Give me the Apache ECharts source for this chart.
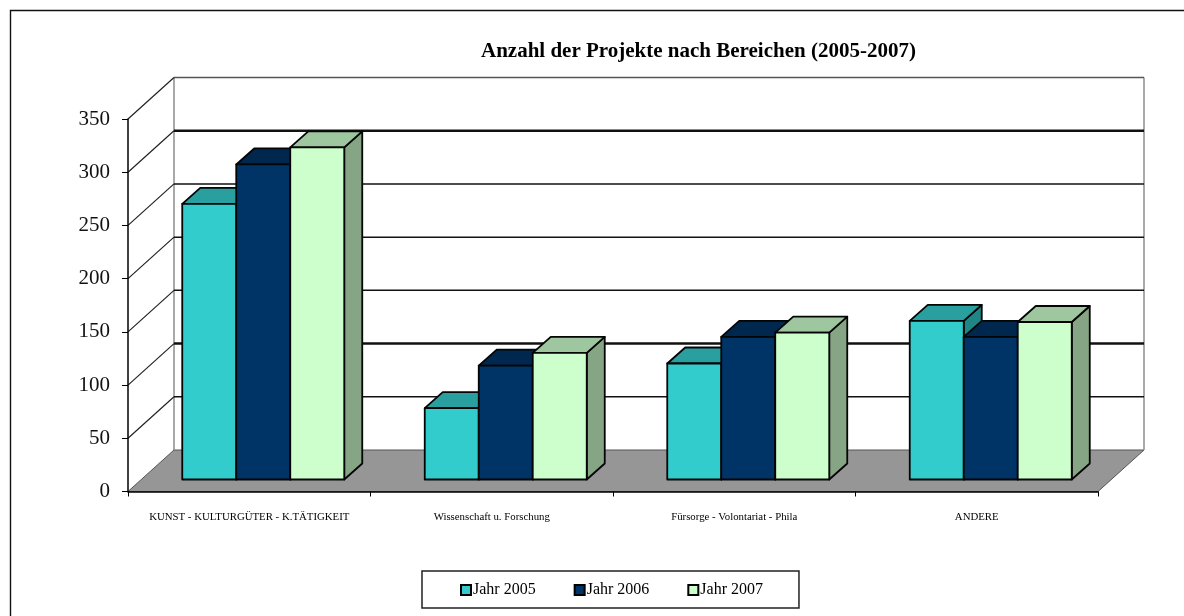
<!DOCTYPE html>
<html>
<head>
<meta charset="utf-8">
<script src="https://cdn.jsdelivr.net/npm/echarts@6/dist/echarts.min.js"></script>
<style>
  html, body { margin: 0; padding: 0; background: #fff; }
  #chart { width: 1184px; height: 616px; }
</style>
</head>
<body>
<div id="chart"></div>
<script>
const categories = ['KUNST - KULTURGÜTER - K.TÄTIGKEIT', 'Wissenschaft u. Forschung', 'Fürsorge - Volontariat - Phila', 'ANDERE']
const yTicks = [0, 50, 100, 150, 200, 250, 300, 350]
const jahr2005 = [259, 67, 109, 149]
const jahr2006 = [296, 107, 134, 134]
const jahr2007 = [312, 119, 138, 148]

const SERIF = '"Liberation Serif", serif'
// fake 3d offsets, px
const wallDepth = [46, -41.5]
const barShift = [14, -12]
const barDepth = [18, -16]
const barShare = 54 / 242.5

const chart = echarts.init(document.getElementById('chart'))

const move = (p, d) => [p[0] + d[0], p[1] + d[1]]

const renderWall = (params, api) => {
  const v = api.value(0)
  const band = api.size([1, 0])[0]
  const front = api.coord([0, v])
  front[0] -= band / 2
  const back = move(front, wallDepth)
  const plotW = band * categories.length
  const children = []
  if (v === 0) {
    const frontEnd = [front[0] + plotW, front[1]]
    const backEnd = move(frontEnd, wallDepth)
    const wallH = api.size([0, 350])[1]
    children.push({
      type: 'polygon',
      shape: { points: [front, back, backEnd, frontEnd] },
      style: { fill: '#969696', stroke: '#555', lineWidth: 1 }
    })
    children.push({
      type: 'line',
      shape: { x1: back[0], y1: back[1], x2: back[0], y2: back[1] - wallH },
      style: { stroke: '#8c8c8c', lineWidth: 1.5 }
    })
    children.push({
      type: 'line',
      shape: { x1: backEnd[0], y1: backEnd[1], x2: backEnd[0], y2: backEnd[1] - wallH },
      style: { stroke: '#8c8c8c', lineWidth: 1.5 }
    })
    return { type: 'group', children }
  }
  children.push({
    type: 'line',
    shape: { x1: front[0], y1: front[1], x2: back[0], y2: back[1] },
    style: { stroke: '#222', lineWidth: 1.2 }
  })
  children.push({
    type: 'line',
    shape: { x1: back[0], y1: back[1], x2: back[0] + plotW, y2: back[1] },
    style: { stroke: v === 350 ? '#555' : '#111', lineWidth: v === 300 || v === 100 ? 2.4 : 1.5 }
  })
  return { type: 'group', children }
}

const makeBarRenderer = (slot, faces) => (params, api) => {
  const cat = api.value(0)
  const val = api.value(1)
  const band = api.size([1, 0])[0]
  const w = band * barShare
  const center = api.coord([cat, 0])[0] + barShift[0]
  const x0 = center - 1.5 * w + slot * w
  const x1 = x0 + w
  const yBase = api.coord([cat, 0])[1] + barShift[1]
  const yTop = api.coord([cat, val])[1] + barShift[1]
  const edge = { stroke: '#050505', lineWidth: 1.8, lineJoin: 'round' }
  return {
    type: 'group',
    children: [
      {
        type: 'polygon',
        shape: { points: [[x1, yTop], move([x1, yTop], barDepth), move([x1, yBase], barDepth), [x1, yBase]] },
        style: { fill: faces.side, ...edge }
      },
      {
        type: 'polygon',
        shape: { points: [[x0, yTop], move([x0, yTop], barDepth), move([x1, yTop], barDepth), [x1, yTop]] },
        style: { fill: faces.top, ...edge }
      },
      {
        type: 'rect',
        shape: { x: x0, y: yTop, width: w, height: yBase - yTop },
        style: { fill: faces.front, ...edge }
      }
    ]
  }
}

const barSeries = (name, values, slot, faces) => ({
  name,
  type: 'custom',
  z: 3,
  renderItem: makeBarRenderer(slot, faces),
  itemStyle: { color: faces.front, borderColor: '#000', borderWidth: 1.5 },
  encode: { x: 0, y: 1 },
  data: values.map((v, i) => [i, v])
})

const option = {
  animation: false,
  backgroundColor: '#fff',
  title: {
    text: 'Anzahl der Projekte nach Bereichen (2005-2007)',
    left: 481,
    top: 41,
    padding: 0,
    textStyle: { fontFamily: SERIF, fontSize: 21, fontWeight: 'bold', color: '#000' }
  },
  legend: {
    left: 422,
    top: 571,
    data: ['Jahr 2005', 'Jahr 2006', 'Jahr 2007'],
    icon: 'rect',
    itemWidth: 10,
    itemHeight: 10,
    itemGap: 38,
    padding: [11, 36, 10, 38],
    borderColor: '#222',
    borderWidth: 1.5,
    textStyle: { fontFamily: SERIF, fontSize: 16, color: '#000', padding: [0, 0, 0, -3] }
  },
  grid: { left: 128, top: 119, width: 970, height: 372.5 },
  xAxis: {
    type: 'category',
    data: categories,
    z: 5,
    axisLine: { lineStyle: { color: '#000', width: 1.5 } },
    axisTick: { show: true, length: 5, lineStyle: { color: '#000' } },
    axisLabel: { margin: 20, interval: 0, fontFamily: SERIF, fontSize: 10.8, color: '#000' }
  },
  yAxis: {
    type: 'value',
    min: 0,
    max: 350,
    interval: 50,
    z: 5,
    splitLine: { show: false },
    axisLine: { show: true, lineStyle: { color: '#000', width: 1.5 } },
    axisTick: { show: true, length: 6, lineStyle: { color: '#000' } },
    axisLabel: { margin: 18, fontFamily: SERIF, fontSize: 21, color: '#111' }
  },
  graphic: [
    {
      type: 'polyline',
      silent: true,
      shape: { points: [[10.5, 616], [10.5, 10.5], [1184, 10.5]] },
      style: { fill: 'none', stroke: '#111', lineWidth: 1.4 }
    }
  ],
  series: [
    {
      name: 'wall',
      type: 'custom',
      silent: true,
      z: 1,
      renderItem: renderWall,
      encode: { y: 0 },
      data: yTicks.map(v => [v])
    },
    barSeries('Jahr 2005', jahr2005, 0, { front: '#33CCCC', top: '#299F9F', side: '#1F8585' }),
    barSeries('Jahr 2006', jahr2006, 1, { front: '#003366', top: '#00284F', side: '#002244' }),
    barSeries('Jahr 2007', jahr2007, 2, { front: '#CCFFCC', top: '#9FC79F', side: '#85A585' })
  ]
}

chart.setOption(option)
</script>
</body>
</html>
